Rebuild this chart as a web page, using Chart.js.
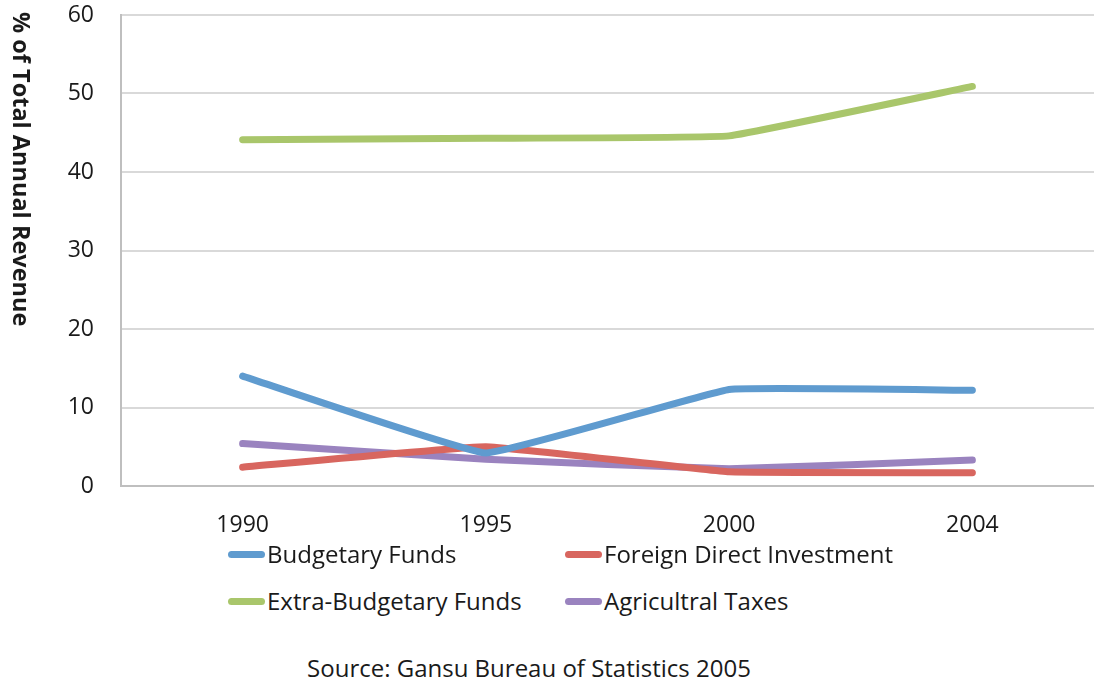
<!DOCTYPE html>
<html>
<head>
<meta charset="utf-8">
<script src="https://cdn.jsdelivr.net/npm/chart.js@4"></script>
<style>
  html, body { margin: 0; padding: 0; background: #fff; width: 1094px; height: 684px; overflow: hidden; }
  #wrap { position: absolute; left: 0; top: 0; width: 1094px; height: 540px; }
  .leg { position: absolute; font-family: "Open Sans", sans-serif; font-size: 24px; color: #1a1a1a; display: flex; align-items: center; white-space: nowrap; line-height: 28px; }
  .sw { display: inline-block; width: 37px; height: 7px; border-radius: 4px; margin-right: 2px; }
  #source { position: absolute; left: 0; width: 1058px; top: 654px; text-align: center; font-family: "Open Sans", sans-serif; font-size: 24px; color: #1a1a1a; line-height: 28px; }
  #ytitle { position: absolute; left: 22px; top: 12px; transform-origin: 0 0; transform: translate(-14px, 0) rotate(90deg) translate(0, -28px); font-family: "Open Sans", sans-serif; font-weight: bold; font-size: 23.5px; line-height: 28px; color: #1a1a1a; white-space: nowrap; }
</style>
</head>
<body>
<div id="wrap"><canvas id="c" width="1094" height="540"></canvas></div>
<div id="ytitle">% of Total Annual Revenue</div>
<div id="legend"></div>
<div id="source">Source: Gansu Bureau of Statistics 2005</div>
<script>
const categories = ["1990", "1995", "2000", "2004"];
const budgetaryFunds = [14.0, 4.2, 12.3, 12.2];
const foreignDirectInvestment = [2.4, 5.0, 1.8, 1.7];
const extraBudgetaryFunds = [44.1, 44.3, 44.6, 50.9];
const agriculturalTaxes = [5.4, 3.4, 2.2, 3.3];
const seriesNames = ["Budgetary Funds", "Foreign Direct Investment", "Extra-Budgetary Funds", "Agricultral Taxes"];
const yTicks = [0, 10, 20, 30, 40, 50, 60];

const colors = ["#5f9bcf", "#d8665f", "#a9c66b", "#9a83bf"];
const seriesData = [budgetaryFunds, foreignDirectInvestment, extraBudgetaryFunds, agriculturalTaxes];

const datasets = seriesNames.map((n, i) => ({
  label: n,
  data: seriesData[i],
  borderColor: colors[i],
  backgroundColor: colors[i],
  borderWidth: 7,
  borderCapStyle: 'round',
  borderJoinStyle: 'round',
  pointRadius: 0,
  tension: 0.08,
  fill: false
}));
const font = "'Open Sans', sans-serif";

new Chart(document.getElementById('c'), {
  type: 'line',
  data: { labels: categories, datasets: datasets },
  options: {
    responsive: false,
    animation: false,
    layout: { padding: { top: 15, right: 0, left: 0, bottom: 0 } },
    plugins: { legend: { display: false }, tooltip: { enabled: false } },
    scales: {
      x: {
        offset: true,
        grid: { display: false, drawTicks: false },
        border: { color: '#bfbfbf', width: 2 },
        ticks: { font: { family: font, size: 23 }, color: '#1a1a1a', padding: 26 },
        afterFit: s => { s.height = 54; s.paddingLeft = 0; s.paddingRight = 0; }
      },
      y: {
        min: 0, max: 60,
        afterBuildTicks: s => { s.ticks = yTicks.map(v => ({ value: v })); },
        grid: { color: '#d9d9d9', lineWidth: 2, drawTicks: false },
        border: { color: '#bfbfbf', width: 2 },
        ticks: { font: { family: font, size: 23 }, color: '#1a1a1a', padding: 27 },
        afterFit: s => { s.width = 121; s.paddingTop = 0; s.paddingBottom = 0; }
      }
    }
  }
});

const legendPos = [[228, 554], [565, 554], [228, 601], [565, 601]];
const legEl = document.getElementById('legend');
seriesNames.forEach((n, i) => {
  const d = document.createElement('div');
  d.className = 'leg';
  d.style.left = legendPos[i][0] + 'px';
  d.style.top = (legendPos[i][1] - 14) + 'px';
  d.innerHTML = '<span class="sw" style="background:' + colors[i] + '"></span><span>' + n + '</span>';
  legEl.appendChild(d);
});
</script>
</body>
</html>
